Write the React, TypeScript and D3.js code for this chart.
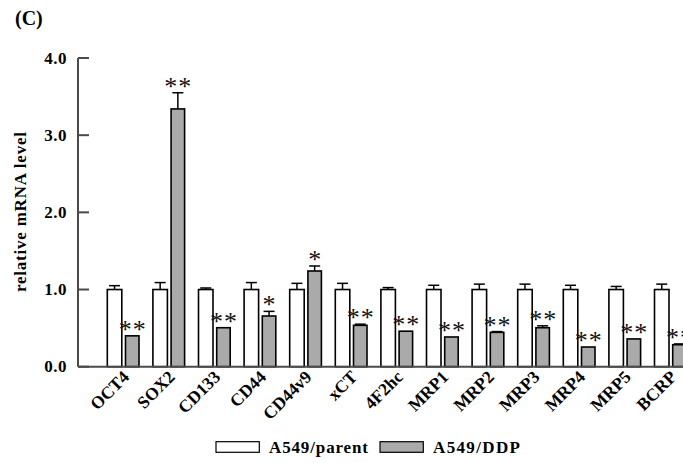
import React from "react";
import * as d3 from "d3";

const genes = ["OCT4", "SOX2", "CD133", "CD44", "CD44v9", "xCT", "4F2hc", "MRP1", "MRP2", "MRP3", "MRP4", "MRP5", "BCRP"];
const parentMean = [1.0, 1.0, 1.0, 1.0, 1.0, 1.0, 1.0, 1.0, 1.0, 1.0, 1.0, 1.0, 1.0];
const parentErr = [0.05, 0.09, 0.02, 0.09, 0.08, 0.08, 0.025, 0.055, 0.07, 0.07, 0.055, 0.04, 0.07];
const ddpMean = [0.4, 3.34, 0.505, 0.657, 1.24, 0.536, 0.46, 0.385, 0.445, 0.505, 0.255, 0.36, 0.285];
const ddpErr = [0.0, 0.21, 0.0, 0.06, 0.065, 0.015, 0.0, 0.0, 0.01, 0.025, 0.0, 0.0, 0.01];
const signif = ["**", "**", "**", "*", "*", "**", "**", "**", "**", "**", "**", "**", "**"];
const yTicks = [0, 1, 2, 3, 4];
const seriesNames = ["A549/parent", "A549/DDP"];

const FONT = "'Liberation Serif', 'Times New Roman', serif";

export default function App() {
  const W = 683, H = 463;
  const axisX = 78;
  const y = d3.scaleLinear().domain([0, 4]).range([366.7, 58]);
  const pitch = 45.6;
  const x = d3.scaleBand<string>().domain(genes).range([107.3 - 2, 107.3 - 2 + pitch * genes.length]).paddingInner(0).paddingOuter(0);
  const whiteW = 14.5, grayOff = 18.2, grayW = 13.5;
  const gray = "#aaaaaa";
  const axisColor = "#4a4a4a";

  return (
    <svg width={W} height={H} style={{ position: "absolute", left: 0, top: 0, background: "#fff" }} fontFamily={FONT}>
      {/* title */}
      <text x={15} y={25} fontSize={20} fontWeight="bold">(C)</text>

      {/* y axis label */}
      <text transform={`translate(26,212) rotate(-90)`} textAnchor="middle" fontSize={17} fontWeight="bold"
        textLength={160} lengthAdjust="spacing">relative mRNA level</text>

      {/* bars */}
      {genes.map((g, i) => {
        const x0 = (x(g) as number) + 2;
        const xg = x0 + grayOff;
        const pTop = y(parentMean[i]);
        const pCap = y(parentMean[i] + parentErr[i]);
        const dTop = y(ddpMean[i]);
        const dCap = y(ddpMean[i] + ddpErr[i]);
        const cw = 5.5;
        const pc = x0 + whiteW / 2;
        const dc = xg + grayW / 2;
        return (
          <g key={g}>
            {parentErr[i] > 0 && (
              <g stroke="#000" strokeWidth={1.5}>
                <line x1={pc} x2={pc} y1={pTop} y2={pCap} />
                <line x1={pc - cw} x2={pc + cw} y1={pCap} y2={pCap} />
              </g>
            )}
            {ddpErr[i] > 0 && (
              <g stroke="#000" strokeWidth={1.5}>
                <line x1={dc} x2={dc} y1={dTop} y2={dCap} />
                <line x1={dc - cw} x2={dc + cw} y1={dCap} y2={dCap} />
              </g>
            )}
            <rect x={x0} y={pTop} width={whiteW} height={y(0) - pTop} fill="#fff" stroke="#000" strokeWidth={1.6} />
            <rect x={xg} y={dTop} width={grayW} height={y(0) - dTop} fill={gray} stroke="#000" strokeWidth={1.6} />
            {signif[i] && (
              <text x={dc + 0.5} y={dCap + 2} textAnchor="middle" fontSize={26} letterSpacing={1} fill="#111">{signif[i]}</text>
            )}
            <text transform={`translate(${x0 + 23},${378}) rotate(-45)`} textAnchor="end" fontSize={17.5} fontWeight="bold">{g}</text>
          </g>
        );
      })}

      {/* axes */}
      <line x1={axisX} x2={W} y1={y(0)} y2={y(0)} stroke={axisColor} strokeWidth={2} />
      <line x1={axisX} x2={axisX} y1={y(4)} y2={y(0)} stroke={axisColor} strokeWidth={2} />
      {yTicks.map((t) => (
        <g key={t}>
          <line x1={axisX} x2={axisX + 11} y1={y(t)} y2={y(t)} stroke={axisColor} strokeWidth={2} />
          <text x={67} y={y(t) + 5.5} textAnchor="end" fontSize={17} fontWeight="bold" letterSpacing={0.5}>{d3.format(".1f")(t)}</text>
        </g>
      ))}

      {/* legend */}
      <rect x={216} y={441.7} width={43.3} height={10.6} fill="#fff" stroke="#000" strokeWidth={1.2} />
      <text x={269} y={452.5} fontSize={17} fontWeight="bold" textLength={99} lengthAdjust="spacing">{seriesNames[0]}</text>
      <rect x={380} y={441.7} width={43.3} height={10.6} fill={gray} stroke="#000" strokeWidth={1.2} />
      <text x={433} y={452.5} fontSize={17} fontWeight="bold" textLength={87} lengthAdjust="spacing">{seriesNames[1]}</text>
    </svg>
  );
}
